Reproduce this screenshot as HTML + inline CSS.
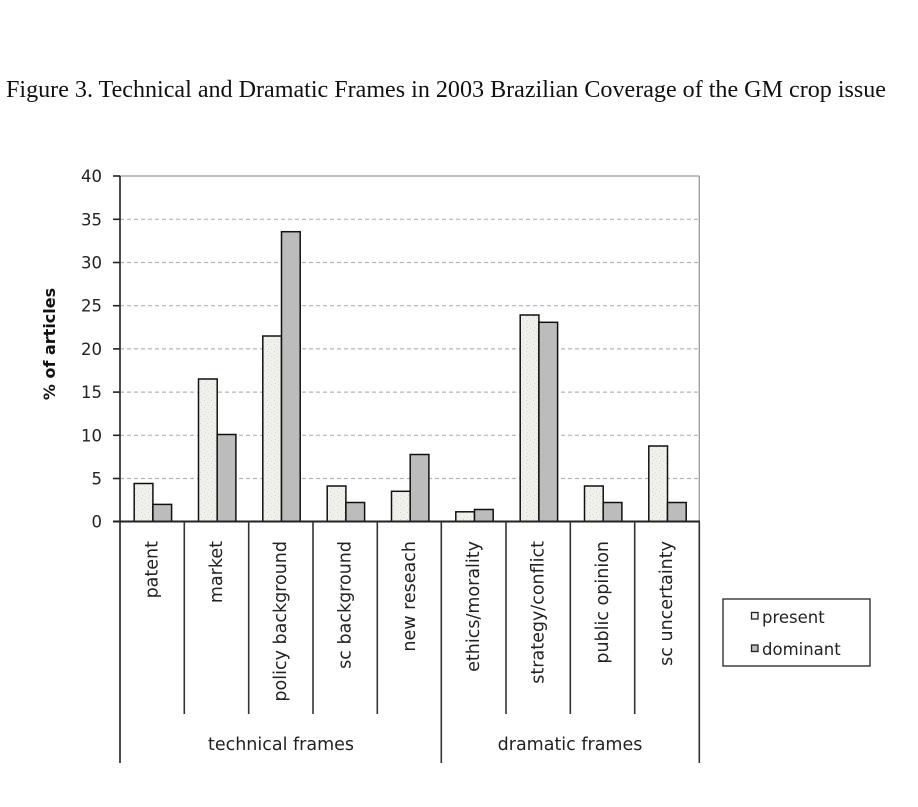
<!DOCTYPE html>
<html><head><meta charset="utf-8"><style>
html,body{margin:0;padding:0;background:#fff;}
svg{display:block;}
</style></head><body>
<svg width="918" height="807" viewBox="0 0 918 807" xmlns="http://www.w3.org/2000/svg">
<defs>
<pattern id="spk" width="7" height="7" patternUnits="userSpaceOnUse">
<rect width="7" height="7" fill="#f1f1eb"/>
<rect x="1" y="1" width="1" height="1" fill="#d2d2ca"/>
<rect x="4" y="3" width="1" height="1" fill="#dadad2"/>
<rect x="2" y="5" width="1" height="1" fill="#d6d6ce"/>
<rect x="5" y="6" width="1" height="1" fill="#dcdcd4"/>
</pattern>
</defs>
<rect width="918" height="807" fill="#fff"/>
<text x="6" y="97" font-family="Liberation Serif, serif" font-size="24" textLength="880" lengthAdjust="spacingAndGlyphs" fill="#111">Figure 3. Technical and Dramatic Frames in 2003 Brazilian Coverage of the GM crop issue</text>

<!-- grid -->
<g stroke="#b4b4b4" stroke-width="1.2" stroke-dasharray="4,3">
<line x1="120" y1="219.3" x2="699" y2="219.3"/>
<line x1="120" y1="262.5" x2="699" y2="262.5"/>
<line x1="120" y1="305.7" x2="699" y2="305.7"/>
<line x1="120" y1="348.9" x2="699" y2="348.9"/>
<line x1="120" y1="392.1" x2="699" y2="392.1"/>
<line x1="120" y1="435.3" x2="699" y2="435.3"/>
<line x1="120" y1="478.5" x2="699" y2="478.5"/>
</g>
<line x1="120" y1="176" x2="699.3" y2="176" stroke="#999" stroke-width="1.3"/>
<line x1="699.3" y1="176" x2="699.3" y2="521.5" stroke="#999" stroke-width="1.3"/>

<!-- bars -->
<g stroke="#111" stroke-width="1.5">
<rect x="134.2" y="483.5" width="18.7" height="38" fill="url(#spk)"/>
<rect x="152.9" y="504.4" width="18.7" height="17.1" fill="#bcbcbc"/>
<rect x="198.5" y="379" width="18.7" height="142.5" fill="url(#spk)"/>
<rect x="217.2" y="434.5" width="18.7" height="87" fill="#bcbcbc"/>
<rect x="262.8" y="336" width="18.7" height="185.5" fill="url(#spk)"/>
<rect x="281.5" y="231.7" width="18.7" height="289.8" fill="#bcbcbc"/>
<rect x="327.2" y="486" width="18.7" height="35.5" fill="url(#spk)"/>
<rect x="345.9" y="502.5" width="18.7" height="19" fill="#bcbcbc"/>
<rect x="391.5" y="491.3" width="18.7" height="30.2" fill="url(#spk)"/>
<rect x="410.2" y="454.5" width="18.7" height="67" fill="#bcbcbc"/>
<rect x="455.8" y="511.8" width="18.7" height="9.7" fill="url(#spk)"/>
<rect x="474.5" y="509.5" width="18.7" height="12" fill="#bcbcbc"/>
<rect x="520.2" y="315" width="18.7" height="206.5" fill="url(#spk)"/>
<rect x="538.9" y="322.3" width="18.7" height="199.2" fill="#bcbcbc"/>
<rect x="584.5" y="486" width="18.7" height="35.5" fill="url(#spk)"/>
<rect x="603.2" y="502.5" width="18.7" height="19" fill="#bcbcbc"/>
<rect x="648.8" y="446" width="18.7" height="75.5" fill="url(#spk)"/>
<rect x="667.5" y="502.5" width="18.7" height="19" fill="#bcbcbc"/>
</g>

<!-- axes -->
<g stroke="#222" stroke-width="1.6">
<line x1="120" y1="176" x2="120" y2="763"/>
<line x1="113" y1="521.5" x2="700" y2="521.5" stroke-width="2"/>
<line x1="113" y1="176" x2="120" y2="176"/>
<line x1="113" y1="219.3" x2="120" y2="219.3"/>
<line x1="113" y1="262.5" x2="120" y2="262.5"/>
<line x1="113" y1="305.7" x2="120" y2="305.7"/>
<line x1="113" y1="348.9" x2="120" y2="348.9"/>
<line x1="113" y1="392.1" x2="120" y2="392.1"/>
<line x1="113" y1="435.3" x2="120" y2="435.3"/>
<line x1="113" y1="478.5" x2="120" y2="478.5"/>
</g>
<g stroke="#333" stroke-width="1.6">
<line x1="184.3" y1="521.5" x2="184.3" y2="714"/>
<line x1="248.7" y1="521.5" x2="248.7" y2="714"/>
<line x1="313" y1="521.5" x2="313" y2="714"/>
<line x1="377.3" y1="521.5" x2="377.3" y2="714"/>
<line x1="441.3" y1="521.5" x2="441.3" y2="763"/>
<line x1="506" y1="521.5" x2="506" y2="714"/>
<line x1="570.3" y1="521.5" x2="570.3" y2="714"/>
<line x1="634.7" y1="521.5" x2="634.7" y2="714"/>
<line x1="699.3" y1="521.5" x2="699.3" y2="763"/>
</g>

<!-- y tick labels -->
<g font-family="DejaVu Sans, Verdana, sans-serif" font-size="16.5" fill="#222" text-anchor="end">
<text x="102" y="182">40</text>
<text x="102" y="225.3">35</text>
<text x="102" y="268.5">30</text>
<text x="102" y="311.7">25</text>
<text x="102" y="354.9">20</text>
<text x="102" y="398.1">15</text>
<text x="102" y="441.3">10</text>
<text x="102" y="484.5">5</text>
<text x="102" y="527.5">0</text>
</g>
<text transform="translate(55,344) rotate(-90)" font-family="DejaVu Sans, Verdana, sans-serif" font-size="16" font-weight="bold" fill="#111" text-anchor="middle">% of articles</text>

<!-- category labels -->
<g font-family="DejaVu Sans, Verdana, sans-serif" font-size="17.5" fill="#222" text-anchor="end">
<text transform="translate(157.5,541) rotate(-90)">patent</text>
<text transform="translate(221.8,541) rotate(-90)">market</text>
<text transform="translate(286.1,541) rotate(-90)">policy background</text>
<text transform="translate(350.5,541) rotate(-90)">sc background</text>
<text transform="translate(414.8,541) rotate(-90)">new reseach</text>
<text transform="translate(479.1,541) rotate(-90)">ethics/morality</text>
<text transform="translate(543.5,541) rotate(-90)">strategy/conflict</text>
<text transform="translate(607.8,541) rotate(-90)">public opinion</text>
<text transform="translate(672.1,541) rotate(-90)">sc uncertainty</text>
</g>
<g font-family="DejaVu Sans, Verdana, sans-serif" font-size="17.5" fill="#222" text-anchor="middle">
<text x="281" y="750">technical frames</text>
<text x="570" y="750">dramatic frames</text>
</g>

<!-- legend -->
<rect x="723" y="599" width="147" height="67" fill="#fff" stroke="#333" stroke-width="1.4"/>
<rect x="751.5" y="612.5" width="6.5" height="6.5" fill="#f1f1eb" stroke="#222" stroke-width="1.3"/>
<rect x="751.5" y="645" width="6.5" height="6.5" fill="#bcbcbc" stroke="#222" stroke-width="1.3"/>
<g font-family="DejaVu Sans, Verdana, sans-serif" font-size="16.5" fill="#222">
<text x="762" y="623">present</text>
<text x="762" y="655">dominant</text>
</g>
</svg>
</body></html>
